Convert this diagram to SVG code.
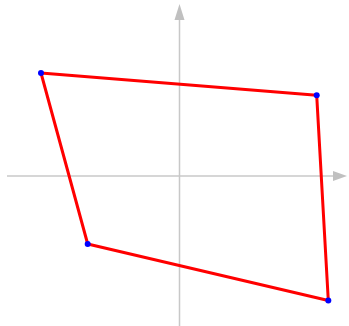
<svg xmlns="http://www.w3.org/2000/svg" width="349" height="326" viewBox="0 0 349 326">
<style>
.axis{stroke:#c8c8c8;stroke-width:1.5;fill:none}
.head{fill:#c0c0c0}
.edge{stroke:#ff0000;stroke-width:3;fill:none;stroke-linejoin:round}
.pt{fill:#0000ff}
</style>
<rect width="349" height="326" fill="#ffffff"/>
<g id="axes">
<line class="axis" x1="7" y1="176" x2="336" y2="176"/>
<polygon class="head" points="347,176 333,171 333,181"/>
<line class="axis" x1="179.5" y1="326" x2="179.5" y2="17"/>
<polygon class="head" points="179.5,4 174.5,20 184.5,20"/>
</g>
<g id="connectors">
<polygon class="edge" points="41,73 316.7,95.3 328.3,300.5 87.7,244"/>
</g>
<g id="A"><circle class="pt" cx="41" cy="73" r="3"/></g>
<g id="B"><circle class="pt" cx="316.7" cy="95.3" r="3"/></g>
<g id="C"><circle class="pt" cx="328.3" cy="300.5" r="3"/></g>
<g id="D"><circle class="pt" cx="87.7" cy="244" r="3"/></g>
</svg>
